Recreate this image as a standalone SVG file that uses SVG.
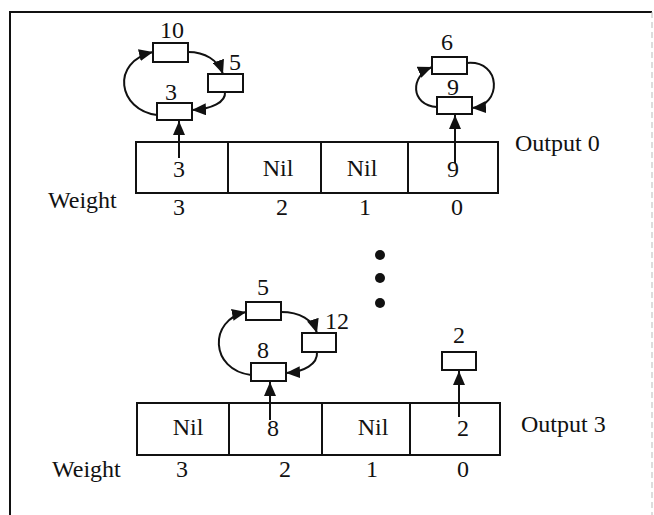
<svg xmlns="http://www.w3.org/2000/svg" width="654" height="515" viewBox="0 0 654 515">
<defs>
<style>
text{font-family:"Liberation Serif","Times New Roman",serif;font-size:24px;fill:#111}
.m{text-anchor:middle}
.box{fill:#fff;stroke:#111;stroke-width:2}
.cell{fill:#fff;stroke:#111;stroke-width:2}
.arc{fill:none;stroke:#111;stroke-width:2;marker-end:url(#ah)}
</style>
<marker id="ah" markerUnits="userSpaceOnUse" markerWidth="14" markerHeight="12" refX="14" refY="6" orient="auto" viewBox="0 0 14 12">
<path d="M0,0 L14,6 L0,12 z" fill="#111"/>
</marker>
</defs>
<rect width="654" height="515" fill="#fff"/>
<g id="frame">
<path d="M10,515 L10,12 L652,12" fill="none" stroke="#111" stroke-width="2"/>
<path d="M652,12 L652,515" fill="none" stroke="#bbb" stroke-width="1" stroke-dasharray="6 4"/>
</g>

<g id="array0">
<rect class="cell" x="136" y="142" width="92" height="51"/>
<rect class="cell" x="228" y="142" width="93" height="51"/>
<rect class="cell" x="321" y="142" width="87" height="51"/>
<rect class="cell" x="408" y="142" width="90" height="51"/>
<text class="m" x="179" y="177">3</text>
<text class="m" x="278" y="176">Nil</text>
<text class="m" x="362" y="176">Nil</text>
<text class="m" x="453" y="177">9</text>
</g>
<g id="weights0">
<text x="48" y="208">Weight</text>
<text class="m" x="179" y="215">3</text>
<text class="m" x="282" y="215">2</text>
<text class="m" x="365" y="215">1</text>
<text class="m" x="457" y="215">0</text>
</g>
<g id="label-out0"><text x="515" y="151">Output 0</text></g>

<g id="n10"><rect class="box" x="153" y="43" width="35" height="19"/><text class="m" x="172" y="38">10</text></g>
<g id="n5a"><rect class="box" x="208" y="74" width="35" height="18"/><text class="m" x="235" y="70">5</text></g>
<g id="n3"><rect class="box" x="157" y="103" width="35" height="17"/><text class="m" x="171" y="100">3</text></g>
<g id="n6"><rect class="box" x="432" y="57" width="35" height="17"/><text class="m" x="447" y="50">6</text></g>
<g id="n9"><rect class="box" x="437" y="97" width="35" height="17"/><text class="m" x="453" y="95">9</text></g>

<g id="dots">
<circle cx="380" cy="255" r="5" fill="#111"/>
<circle cx="380" cy="278" r="5" fill="#111"/>
<circle cx="380" cy="303" r="5" fill="#111"/>
</g>

<g id="array3">
<rect class="cell" x="137" y="403" width="92" height="52"/>
<rect class="cell" x="229" y="403" width="93" height="52"/>
<rect class="cell" x="322" y="403" width="88" height="52"/>
<rect class="cell" x="410" y="403" width="90" height="52"/>
<text class="m" x="188" y="435">Nil</text>
<text class="m" x="273" y="436">8</text>
<text class="m" x="373" y="435">Nil</text>
<text class="m" x="463" y="436">2</text>
</g>
<g id="weights3">
<text x="52" y="477">Weight</text>
<text class="m" x="182" y="477">3</text>
<text class="m" x="285" y="477">2</text>
<text class="m" x="372" y="477">1</text>
<text class="m" x="463" y="477">0</text>
</g>
<g id="label-out3"><text x="521" y="432">Output 3</text></g>

<g id="n5b"><rect class="box" x="246" y="302" width="35" height="18"/><text class="m" x="263" y="295">5</text></g>
<g id="n12"><rect class="box" x="302" y="333" width="34" height="19"/><text class="m" x="337" y="329">12</text></g>
<g id="n8"><rect class="box" x="251" y="363" width="35" height="18"/><text class="m" x="263" y="358">8</text></g>
<g id="n2"><rect class="box" x="442" y="352" width="34" height="18"/><text class="m" x="459" y="343">2</text></g>

<g id="connectors">
<path class="arc" d="M157,115 C118,110 110,62 153,52"/>
<path class="arc" d="M188,52 C205,52 218,60 223,74"/>
<path class="arc" d="M225,92 C226,102 212,109 192,110"/>
<path class="arc" d="M179,158 L179,121"/>
<path class="arc" d="M437,107 C410,105 410,76 432,67"/>
<path class="arc" d="M467,63 C502,60 502,106 472,108"/>
<path class="arc" d="M455,163 L455,115"/>
<path class="arc" d="M251,375 C210,370 208,320 246,312"/>
<path class="arc" d="M281,312 C300,312 313,320 317,333"/>
<path class="arc" d="M317,352 C318,364 304,372 286,373"/>
<path class="arc" d="M270,420 L270,382"/>
<path class="arc" d="M459,417 L459,371"/>
</g>
</svg>
